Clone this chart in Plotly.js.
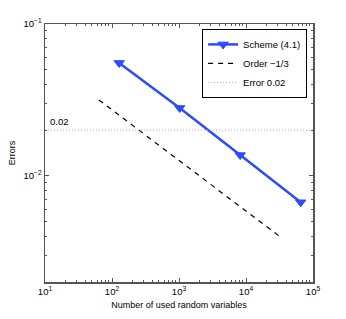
<!DOCTYPE html>
<html><head><meta charset="utf-8">
<script src="https://cdn.plot.ly/plotly-3.0.1.min.js"></script>
<style>html,body{margin:0;padding:0;background:#fff}#plot{width:346px;height:319px}</style>
</head><body><div id="plot"></div>
<script>
// Data
const schemeN = [128, 1024, 8192, 65536];
const schemeErr = [0.0554, 0.028, 0.0137, 0.0067];
const orderN = [64, 512, 4096, 32768];
const orderErr = [0.0316, 0.0158, 0.0079, 0.00395];
const errorLevel = 0.02;
const errorLineN = [10, 100000];
const xTickVals = [10, 100, 1000, 10000, 100000];
const xTickText = ['10<sup>1</sup>', '10<sup>2</sup>', '10<sup>3</sup>', '10<sup>4</sup>', '10<sup>5</sup>'];
const yTickVals = [0.01, 0.1];
const yTickText = ['10<sup>−2</sup>', '10<sup>−1</sup>'];

const font = 'Liberation Sans Narrow, Liberation Sans, Arial, sans-serif';
const blue = '#2a4bff';

function minorVals(lo, hi) {
  const v = [];
  for (let e = lo; e < hi; e++) for (let d = 2; d <= 9; d++) v.push(d * Math.pow(10, e));
  return v;
}

const traces = [
  {x: schemeN, y: schemeErr, name: 'Scheme (4.1)', mode: 'lines+markers',
   line: {color: blue, width: 2.5},
   marker: {symbol: 'triangle-down', size: 9, color: blue, line: {color: blue, width: 1}}},
  {x: orderN, y: orderErr, name: 'Order −1/3', mode: 'lines',
   line: {color: '#000', width: 1.2, dash: '5px,5px'}},
  {x: errorLineN, y: [errorLevel, errorLevel], name: 'Error 0.02', mode: 'lines',
   line: {color: '#aaa', width: 1, dash: '1px,2px'}}
];

const layout = {
  width: 346, height: 319,
  margin: {l: 45, r: 33, t: 24, b: 37},
  paper_bgcolor: '#fff', plot_bgcolor: '#fff',
  font: {family: font, size: 9, color: '#000'},
  showlegend: true,
  legend: {x: 0.978, y: 0.981, xanchor: 'right', yanchor: 'top',
    bgcolor: '#fff', bordercolor: '#000', borderwidth: 1,
    font: {family: font, size: 9.5}, tracegroupgap: 0, itemwidth: 30},
  xaxis: {type: 'log', range: [1, 5], showgrid: false, zeroline: false,
    showline: true, mirror: 'ticks', linecolor: '#555', linewidth: 1.5,
    ticks: 'inside', ticklen: 4, tickcolor: '#555',
    tickvals: xTickVals, ticktext: xTickText,
    minor: {tickvals: minorVals(1, 5), ticks: 'inside', ticklen: 2, tickcolor: '#555', showgrid: false},
    tickfont: {size: 9.5},
    title: {text: 'Number of used random variables', font: {size: 9}, standoff: 6}},
  yaxis: {type: 'log', range: [Math.log10(0.002), -1], showgrid: false, zeroline: false,
    showline: true, mirror: 'ticks', linecolor: '#555', linewidth: 1.5,
    ticks: 'inside', ticklen: 4, tickcolor: '#555',
    tickvals: yTickVals, ticktext: yTickText,
    minor: {tickvals: minorVals(-3, -1).filter(v => v >= 0.002), ticks: 'inside', ticklen: 2, tickcolor: '#555', showgrid: false},
    tickfont: {size: 9.5},
    title: {text: 'Errors', font: {size: 9}, standoff: 6}},
  annotations: [{x: 1, y: Math.log10(errorLevel), xref: 'x', yref: 'y',
    text: '0.02', showarrow: false, yanchor: 'bottom', xanchor: 'left', yshift: 1, xshift: 3,
    font: {size: 9.5, family: font}}]
};

Plotly.newPlot('plot', traces, layout, {staticPlot: true, displayModeBar: false});
</script></body></html>
